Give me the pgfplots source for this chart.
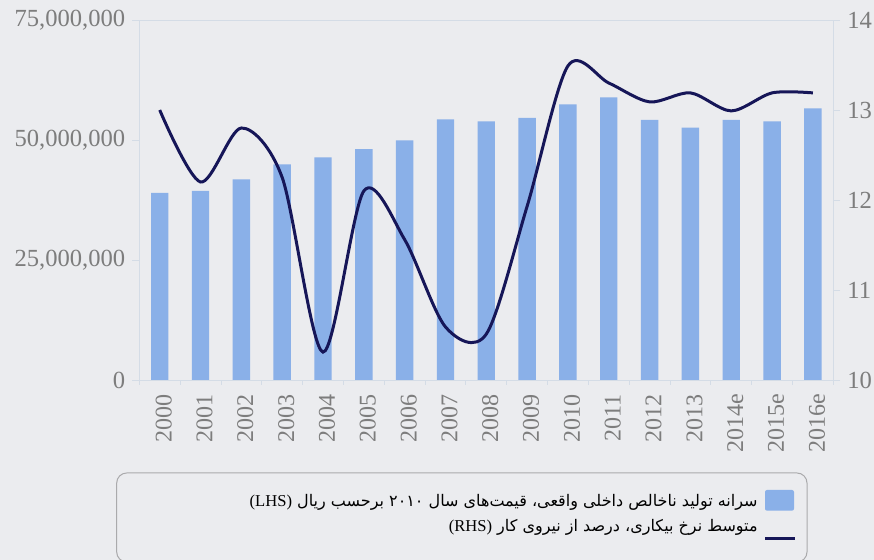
\documentclass[border=0pt]{standalone}
\usepackage{pgfplots}
\pgfplotsset{compat=1.18}
\usepackage{fontspec}
\setmainfont{Liberation Serif}
\newfontfamily\arabicfont[Script=Arabic]{DejaVu Sans}
\TeXXeTstate=1
\definecolor{bg}{RGB}{235,236,239}
\definecolor{barblue}{RGB}{138,176,232}
\definecolor{navy}{RGB}{22,22,88}
\definecolor{axgrey}{RGB}{212,220,230}
\definecolor{lblgrey}{RGB}{125,125,125}
\definecolor{boxgrey}{RGB}{170,170,172}

\pgfplotstableread{
x gdp
0 38.96
1 39.40
2 41.80
3 44.90
4 46.40
5 48.10
6 49.90
7 54.30
8 53.90
9 54.60
10 57.40
11 58.90
12 54.20
13 52.60
14 54.20
15 53.90
16 56.60
}\gdptable

\pgfplotstableread{
x unemp
0 13.00
1 12.20
2 12.80
3 12.25
4 10.31
5 12.10
6 11.56
7 10.59
8 10.51
9 11.93
10 13.49
11 13.30
12 13.09
13 13.19
14 12.99
15 13.19
16 13.19
}\unemptable

\begin{document}
\begin{tikzpicture}
\path[use as bounding box, fill=bg] (-69.65pt,-90pt) rectangle (367.35pt,190pt);
\begin{axis}[
  scale only axis,
  width=347pt, height=180pt,
  xmin=-0.5, xmax=16.5,
  ymin=0, ymax=75,
  axis line style={axgrey},
  every tick/.style={axgrey},
  tick align=outside,
  xtick pos=bottom, ytick pos=left,
  xtick={0,...,16},
  xticklabels={2000,2001,2002,2003,2004,2005,2006,2007,2008,2009,2010,2011,2012,2013,2014e,2015e,2016e},
  major x tick style={draw=none},
  minor xtick={-0.5,0.5,...,16.5},
  minor tick length=2.5pt,
  major tick length=3.5pt,
  xticklabel style={rotate=90, anchor=east, font=\fontsize{12}{14}\selectfont, text=lblgrey, yshift=-2pt},
  ytick={0,25,50,75},
  yticklabels={0,{25,000,000},{50,000,000},{75,000,000}},
  yticklabel style={font=\fontsize{12.3}{14}\selectfont, text=lblgrey},
]
\addplot[ybar, bar width=8.7pt, fill=barblue, draw=none] table[x=x, y=gdp] {\gdptable};
\end{axis}
\begin{axis}[
  scale only axis,
  width=347pt, height=180pt,
  xmin=-0.5, xmax=16.5,
  ymin=10, ymax=14,
  hide x axis,
  axis y line*=right,
  axis line style={axgrey},
  every tick/.style={axgrey},
  tick align=outside,
  major tick length=3.5pt,
  ytick={10,11,12,13,14},
  yticklabels={10,11,12,13,14},
  yticklabel style={font=\fontsize{12.3}{14}\selectfont, text=lblgrey},
]
\addplot[navy, line width=1.5pt, smooth, tension=0.5, no markers] table[x=x, y=unemp] {\unemptable};
\end{axis}
% legend
\draw[boxgrey, line width=0.5pt, rounded corners=5pt] (-11.3pt,-46.5pt) rectangle (333.85pt,-91pt);
\fill[barblue, rounded corners=1pt] (312.85pt,-55pt) rectangle (327.35pt,-65.35pt);
\draw[navy, line width=1.5pt] (312.85pt,-79.5pt) -- (327.85pt,-79.5pt);
\node[anchor=base east, inner sep=0pt, font=\fontsize{8}{10}\selectfont] at (309.35pt,-63.5pt)
  {\arabicfont\beginR سرانه تولید ناخالص داخلی واقعی، قیمت‌های سال ۲۰۱۰ برحسب ریال \beginL{\rmfamily\fontsize{8.3}{10}\selectfont(LHS)}\endL\endR};
\node[anchor=base east, inner sep=0pt, font=\fontsize{8}{10}\selectfont] at (309.35pt,-76pt)
  {\arabicfont\beginR متوسط نرخ بیکاری، درصد از نیروی کار \beginL{\rmfamily\fontsize{8.3}{10}\selectfont(RHS)}\endL\endR};
\end{tikzpicture}
\end{document}
